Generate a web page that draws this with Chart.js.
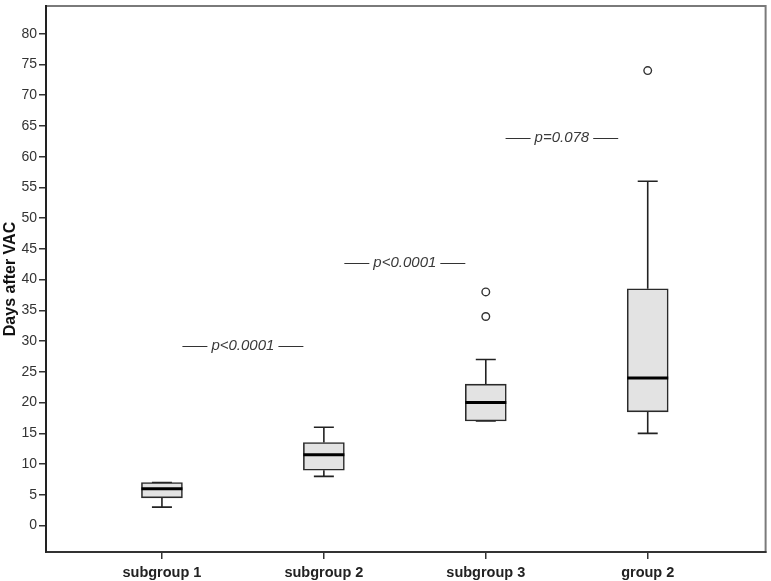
<!DOCTYPE html>
<html>
<head>
<meta charset="utf-8">
<script src="https://cdn.jsdelivr.net/npm/chart.js@4"></script>
<style>
  html, body { margin:0; padding:0; background:#fff; }
  #wrap { width:771px; height:581px; }
</style>
</head>
<body>
<div id="wrap"><canvas id="myChart" width="771" height="581"></canvas></div>
<script>
// categories and box values
var categories = ['subgroup 1', 'subgroup 2', 'subgroup 3', 'group 2']
var whiskerLow = [3, 8, 17, 15]
var q1 = [4.5, 9, 17, 18.5]
var median = [6, 11.5, 20, 24]
var q3 = [7, 13.5, 23, 38.5]
var whiskerHigh = [7, 16, 27, 56]

// outliers (category index, value)
var outlierCat = [3, 3, 4]
var outlierVal = [38, 34, 74]

// p-value notes between boxes
var pLabels = ['p<0.0001', 'p<0.0001', 'p=0.078']
var pX = [1.5, 2.5, 3.47]
var pY = [29.2, 42.7, 63.1]

var yTicks = [0, 5, 10, 15, 20, 25, 30, 35, 40, 45, 50, 55, 60, 65, 70, 75, 80]

var boxData = []
for (var i = 0; i < categories.length; i++) {
    boxData.push({x: i + 1, y: [q1[i], q3[i]]})
}
var outData = []
for (var j = 0; j < outlierCat.length; j++) {
    outData.push({x: outlierCat[j], y: outlierVal[j]})
}

var boxPlugin = {
    id: 'boxparts',
    beforeDraw: function(chart) {
        var ctx = chart.ctx, a = chart.chartArea
        ctx.save()
        ctx.strokeStyle = '#7a7a7a'
        ctx.lineWidth = 2
        ctx.strokeRect(a.left, a.top, a.right - a.left, a.bottom - a.top)
        ctx.restore()
    },
    beforeDatasetsDraw: function(chart) {
        var ctx = chart.ctx
        var xs = chart.scales.x, ys = chart.scales.y
        ctx.save()
        ctx.strokeStyle = '#222'
        ctx.lineWidth = 1.6
        for (var i = 0; i < categories.length; i++) {
            var cx = xs.getPixelForValue(i + 1)
            var capHalf = 10
            // lower whisker
            ctx.beginPath()
            ctx.moveTo(cx, ys.getPixelForValue(q1[i]))
            ctx.lineTo(cx, ys.getPixelForValue(whiskerLow[i]))
            ctx.moveTo(cx - capHalf, ys.getPixelForValue(whiskerLow[i]))
            ctx.lineTo(cx + capHalf, ys.getPixelForValue(whiskerLow[i]))
            // upper whisker
            ctx.moveTo(cx, ys.getPixelForValue(q3[i]))
            ctx.lineTo(cx, ys.getPixelForValue(whiskerHigh[i]))
            ctx.moveTo(cx - capHalf, ys.getPixelForValue(whiskerHigh[i]))
            ctx.lineTo(cx + capHalf, ys.getPixelForValue(whiskerHigh[i]))
            ctx.stroke()
        }
        ctx.restore()
    },
    afterDatasetsDraw: function(chart) {
        var ctx = chart.ctx
        var xs = chart.scales.x, ys = chart.scales.y
        var meta = chart.getDatasetMeta(0)
        ctx.save()
        ctx.strokeStyle = '#000'
        ctx.lineWidth = 3
        for (var i = 0; i < categories.length; i++) {
            var bar = meta.data[i]
            var half = bar.width / 2
            var my = ys.getPixelForValue(median[i])
            ctx.beginPath()
            ctx.moveTo(bar.x - half, my)
            ctx.lineTo(bar.x + half, my)
            ctx.stroke()
        }
        // p-value notes
        ctx.font = 'italic 15px "Liberation Sans", Arial, sans-serif'
        ctx.fillStyle = '#3a3a3a'
        ctx.textAlign = 'center'
        ctx.textBaseline = 'middle'
        ctx.strokeStyle = '#333'
        ctx.lineWidth = 1
        for (var k = 0; k < pLabels.length; k++) {
            var px = xs.getPixelForValue(pX[k])
            var py = ys.getPixelForValue(pY[k])
            var w = ctx.measureText(pLabels[k]).width
            ctx.fillText(pLabels[k], px, py)
            var ly = Math.round(py) + 0.5
            ctx.beginPath()
            ctx.moveTo(px - w / 2 - 4, ly)
            ctx.lineTo(px - w / 2 - 29, ly)
            ctx.moveTo(px + w / 2 + 4, ly)
            ctx.lineTo(px + w / 2 + 29, ly)
            ctx.stroke()
        }
        ctx.restore()
    }
}

var myChart = document.getElementById('myChart').getContext('2d')
var chart = new Chart(myChart, {
    type: 'bar',
    data: {
        datasets: [
            {
                type: 'bar',
                data: boxData,
                backgroundColor: '#e3e3e3',
                borderColor: '#2a2a2a',
                borderWidth: 1.6,
                borderSkipped: false,
                barThickness: 41
            },
            {
                type: 'scatter',
                data: outData,
                pointStyle: 'circle',
                pointRadius: 3.8,
                pointBackgroundColor: '#fff',
                pointBorderColor: '#333',
                pointBorderWidth: 1.4
            }
        ]
    },
    options: {
        responsive: false,
        animation: false,
        events: [],
        layout: { padding: { top: 6, right: 5, left: 0, bottom: 0 } },
        plugins: { legend: { display: false }, tooltip: { enabled: false } },
        scales: {
            x: {
                type: 'linear',
                min: 0.284,
                max: 4.728,
                offset: false,
                afterBuildTicks: function(scale) {
                    scale.ticks = categories.map(function(c, i) { return {value: i + 1} })
                },
                afterFit: function(scale) {
                    scale.height = 29
                    scale.paddingLeft = 0
                    scale.paddingRight = 0
                },
                ticks: {
                    autoSkip: false,
                    maxRotation: 0,
                    padding: 5,
                    color: '#222',
                    font: { family: '"Liberation Sans", Arial, sans-serif', size: 14.5, weight: 'bold' },
                    callback: function(v) { return categories[v - 1] }
                },
                grid: { offset: false, drawOnChartArea: false, tickLength: 7, color: '#333', lineWidth: 1.5 },
                border: { display: true, color: '#333', width: 2 }
            },
            y: {
                type: 'linear',
                min: -4.3,
                max: 84.5,
                afterBuildTicks: function(scale) {
                    scale.ticks = yTicks.map(function(v) { return {value: v} })
                },
                afterFit: function(scale) {
                    scale.width = 46
                    scale.paddingTop = 0
                    scale.paddingBottom = 0
                },
                ticks: {
                    padding: 2,
                    color: '#333',
                    font: { family: '"Liberation Sans", Arial, sans-serif', size: 14 }
                },
                grid: { drawOnChartArea: false, tickLength: 7, color: '#333', lineWidth: 1.5 },
                border: { display: true, color: '#222', width: 2 },
                title: {
                    display: true,
                    text: 'Days after VAC',
                    color: '#111',
                    padding: { top: 1, bottom: 0 },
                    font: { family: '"Liberation Sans", Arial, sans-serif', size: 16, weight: 'bold' }
                }
            }
        }
    },
    plugins: [boxPlugin]
})
</script>
</body>
</html>
